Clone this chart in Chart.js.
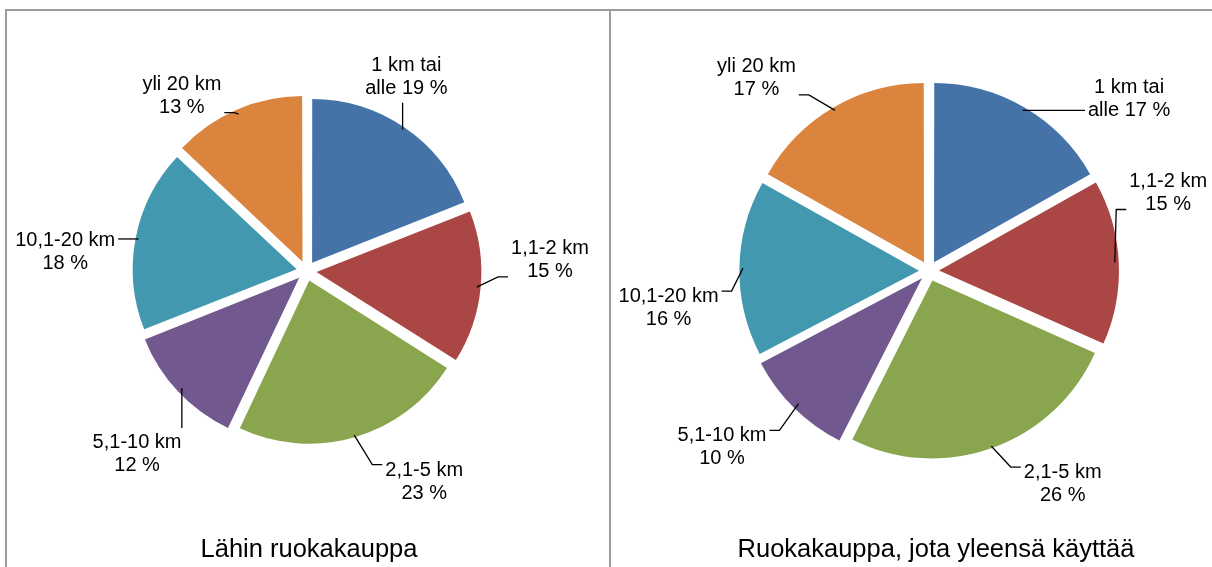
<!DOCTYPE html>
<html>
<head>
<meta charset="utf-8">
<title>Ruokakaupan etäisyys</title>
<script src="https://cdn.jsdelivr.net/npm/chart.js@4.4.0/dist/chart.umd.min.js"></script>
<style>
  html, body { margin: 0; padding: 0; background: #fff; overflow: hidden; }
  body { width: 1212px; height: 567px; position: relative; }
  .panel { position: absolute; top: 9px; height: 600px; border-top: 2px solid #9c9c9c; }
  #leftPanel { left: 5px; width: 602px; border-left: 2px solid #9c9c9c; border-right: 2px solid #9c9c9c; }
  #rightPanel { left: 611px; width: 610px; }
  canvas { position: absolute; top: 0; left: 0; }
</style>
</head>
<body>
<div class="panel" id="leftPanel"><canvas id="nearestChart" width="602" height="556"></canvas></div>
<div class="panel" id="rightPanel"><canvas id="usualChart" width="601" height="556"></canvas></div>

<script>
// Distance classes (first one wraps onto two lines like the original)
const categories = [["1 km tai", "alle"], "1,1-2 km", "2,1-5 km", "5,1-10 km", "10,1-20 km", "yli 20 km"];

// Shares in percent
const nearestShares = [19, 15, 23, 12, 18, 13];
const usualShares = [17, 15, 26, 10, 16, 17];

const chartTitles = ["Lähin ruokakauppa", "Ruokakauppa, jota yleensä käyttää"];

const sliceColors = ["#4572A7", "#AA4643", "#89A54E", "#71588F", "#4198AF", "#DB843D"];

const FONT = '"Liberation Sans", Arial, Helvetica, sans-serif';

// Build the text lines of one data label
function labelLines(cat, value) {
  const pct = value + " %";
  if (Array.isArray(cat)) {
    const lines = cat.slice();
    lines[lines.length - 1] += " " + pct;
    return lines;
  }
  return [cat, pct];
}

// Outside labels with leader lines + chart title under the pie
const pieLabels = {
  id: "pieLabels",
  afterDatasetsDraw(chart, args, opts) {
    const ctx = chart.ctx;
    const meta = chart.getDatasetMeta(0);
    const values = chart.data.datasets[0].data;
    const lineH = 23;

    ctx.save();
    ctx.font = "20px " + FONT;
    ctx.fillStyle = "#000";
    ctx.strokeStyle = "#000";
    ctx.lineWidth = 1.3;
    ctx.textAlign = "center";
    ctx.textBaseline = "middle";

    meta.data.forEach((arc, i) => {
      const p = arc.getProps(["x", "y", "startAngle", "endAngle", "outerRadius"], true);
      const mid = (p.startAngle + p.endAngle) / 2;
      // ArcElement moves an exploded slice by offset / 4
      const shift = (arc.options.offset || 0) / 4;

      // point on the exploded slice edge
      const sx = p.x + Math.cos(mid) * (shift + p.outerRadius - 2);
      const sy = p.y + Math.sin(mid) * (shift + p.outerRadius - 2);

      // label block position
      const place = opts.place[i];
      const a = mid + place[0] * Math.PI / 180;
      const d = p.outerRadius * place[1];
      const cx = p.x + Math.cos(a) * d;
      const cy = p.y + Math.sin(a) * d;

      const lines = labelLines(chart.data.labels[i], values[i]);
      const w = Math.max(...lines.map(l => ctx.measureText(l).width));
      const h = lines.length * lineH;
      const left = cx - w / 2, right = cx + w / 2;
      const top = cy - h / 2, bottom = cy + h / 2;

      // leader line
      ctx.beginPath();
      ctx.moveTo(sx, sy);
      if (sx < left - 2) {
        const ty = Math.min(Math.max(sy, top + 6), bottom - 6);
        const tx = left - 3;
        const ex = tx - 10;
        if (sx < ex) ctx.lineTo(ex, ty);
        ctx.lineTo(tx, ty);
      } else if (sx > right + 2) {
        const ty = Math.min(Math.max(sy, top + 6), bottom - 6);
        const tx = right + 3;
        const ex = tx + 10;
        if (sx > ex) ctx.lineTo(ex, ty);
        ctx.lineTo(tx, ty);
      } else if (sy > bottom) {
        ctx.lineTo(sx, bottom + 3);
      } else {
        ctx.lineTo(sx, top - 3);
      }
      ctx.stroke();

      lines.forEach((line, j) => {
        ctx.fillText(line, cx, cy + (j - (lines.length - 1) / 2) * lineH);
      });
    });

    // title
    ctx.font = "25.5px " + FONT;
    ctx.textBaseline = "alphabetic";
    ctx.fillText(opts.title, opts.titleX, opts.titleY);
    ctx.restore();
  }
};

function makePie(canvasId, shares, title, radius, padding, place, titleX) {
  return new Chart(document.getElementById(canvasId), {
    type: "pie",
    data: {
      labels: categories,
      datasets: [{
        data: shares,
        backgroundColor: sliceColors,
        borderWidth: 0,
        offset: 40,
        hoverOffset: 40,
        radius: radius
      }]
    },
    options: {
      responsive: false,
      animation: false,
      events: [],
      layout: { padding: padding },
      plugins: {
        legend: { display: false },
        tooltip: { enabled: false },
        pieLabels: { place: place, title: title, titleX: titleX, titleY: 546 }
      }
    },
    plugins: [pieLabels]
  });
}

// label placement: [turn from slice middle in degrees, distance / radius]
makePie("nearestChart", nearestShares, chartTitles[0], 163,
  { left: 100, right: 103, top: 80, bottom: 116 },
  [[-7, 1.34], [-8, 1.495], [-13, 1.48], [-4, 1.53], [-6.3, 1.485], [-12, 1.32]],
  302);

makePie("usualChart", usualShares, chartTitles[1], 178,
  { left: 120, right: 85, top: 80, bottom: 116 },
  [[19, 1.483], [-15.5, 1.414], [-12.5, 1.413], [5, 1.528], [-9, 1.478], [-11.5, 1.455]],
  325);
</script>
</body>
</html>
